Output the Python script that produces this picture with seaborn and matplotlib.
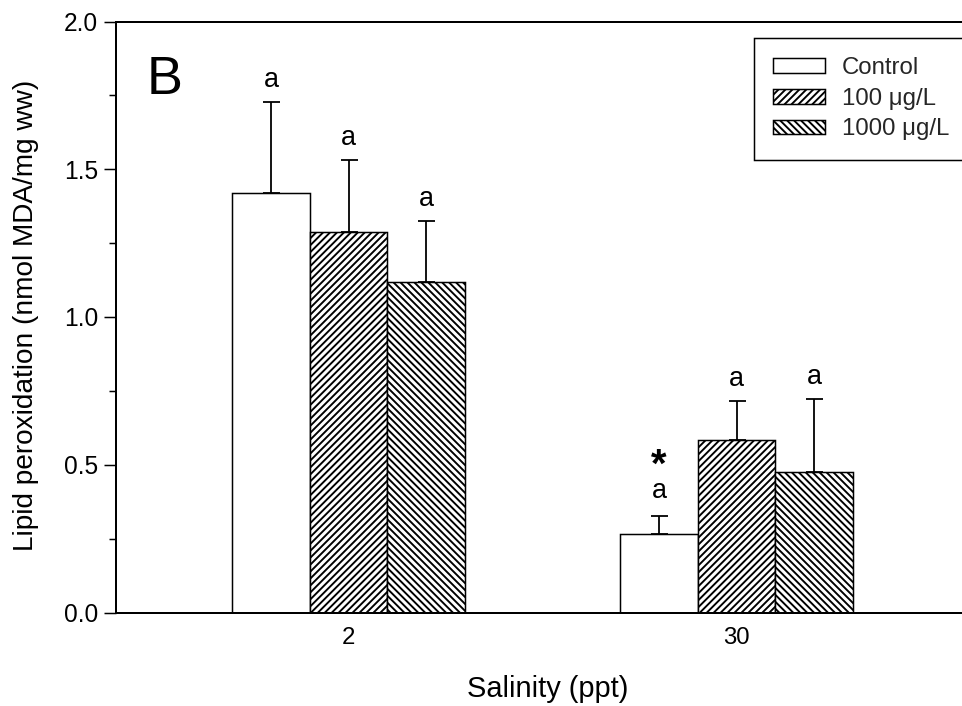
import numpy as np
import pandas as pd
import matplotlib
matplotlib.use("Agg")
import matplotlib.pyplot as plt
import seaborn as sns
from matplotlib.patches import Patch
from matplotlib.ticker import MultipleLocator, FormatStrFormatter

# ---------------- data ----------------
salinity = ["2", "30"]
treatments = ["Control", "100 μg/L", "1000 μg/L"]
control_mean = [1.420, 0.264]
control_err = [0.307, 0.062]
low_mean = [1.289, 0.584]
low_err = [0.241, 0.133]
high_mean = [1.118, 0.475]
high_err = [0.206, 0.248]
control_letters = ["a", "a"]
low_letters = ["a", "a"]
high_letters = ["a", "a"]
control_marks = ["", "*"]
low_marks = ["", ""]
high_marks = ["", ""]
y_ticks = [0.0, 0.5, 1.0, 1.5, 2.0]

# ---------------- style ----------------
DPI = 125
W, H = 962, 706
PX = 72.0 / DPI  # points per pixel

sns.set_theme(style="ticks")
plt.rcParams['font.family'] = ['Liberation Sans', 'DejaVu Sans']
plt.rcParams['hatch.linewidth'] = 1.1
plt.rcParams['hatch.color'] = 'black'

fig = plt.figure(figsize=(W / DPI, H / DPI), dpi=DPI)
ax = fig.add_axes([116 / W, 1 - 612.5 / H, (1010 - 116) / W, 591 / H])

means = [control_mean, low_mean, high_mean]
errs = [control_err, low_err, high_err]
letters = [control_letters, low_letters, high_letters]
marks = [control_marks, low_marks, high_marks]
hatches = ["", "//////", "\\" * 6]

df = pd.DataFrame({
    "Salinity": salinity * len(treatments),
    "Treatment": np.repeat(treatments, len(salinity)),
    "Value": np.concatenate(means),
})

sns.barplot(data=df, x="Salinity", y="Value", hue="Treatment",
            order=salinity, hue_order=treatments,
            palette=["white"] * 3, saturation=1, edgecolor="black",
            linewidth=1.5 * PX, width=0.6, errorbar=None, legend=False, ax=ax)

for cont, hatch, err, labs, mk in zip(ax.containers, hatches, errs, letters, marks):
    xs, tops = [], []
    for bar in cont:
        bar.set_hatch(hatch)
        bar.set_edgecolor("black")
        xs.append(bar.get_x() + bar.get_width() / 2)
        tops.append(bar.get_height())
    ax.errorbar(xs, tops, yerr=[np.zeros(len(err)), err], fmt="none",
                ecolor="black", elinewidth=1.8 * PX, capsize=8.5 * PX,
                capthick=1.8 * PX, zorder=3)
    for x, t, e, lab, m in zip(xs, tops, err, labs, mk):
        ax.annotate(lab, xy=(x, t + e), xytext=(0, (18 if m else 15) * PX),
                    textcoords="offset points",
                    ha="center", va="baseline", fontsize=27 * PX, color="black")
        if m:
            ax.annotate(m, xy=(x, t + e), xytext=(0, 39 * PX), textcoords="offset points",
                        ha="center", va="baseline", fontsize=40 * PX, fontweight="bold",
                        color="black")

ax.set_ylim(0, 2.0)
ax.set_xlim((116 - 348.5) / 388, (1010 - 348.5) / 388)
ax.set_yticks(y_ticks)
ax.yaxis.set_major_formatter(FormatStrFormatter("%.1f"))
ax.yaxis.set_minor_locator(MultipleLocator(0.25))
ax.tick_params(axis="y", which="major", direction="out", length=12 * PX, width=1.5 * PX,
               labelsize=24.5 * PX, pad=6 * PX, color="black", labelcolor="black")
ax.tick_params(axis="y", which="minor", direction="out", length=6.7 * PX, width=1.5 * PX,
               color="black")
ax.tick_params(axis="x", length=0, labelsize=24 * PX, pad=14 * PX, labelcolor="black")
ax.set_xlabel("")
ax.set_ylabel("")
for s in ax.spines.values():
    s.set_visible(True)
    s.set_color("black")
    s.set_linewidth(2 * PX)

fig.text(548 / W, 1 - 697 / H, "Salinity (ppt)", ha="center", va="baseline",
         fontsize=29 * PX, color="black")
fig.text(33.3 / W, 1 - 315 / H, "Lipid peroxidation (nmol MDA/mg ww)", rotation=90,
         rotation_mode="anchor", ha="center", va="baseline", fontsize=28 * PX, color="black")
fig.text(147 / W, 1 - 94 / H, "B", ha="left", va="baseline", fontsize=54 * PX, color="black")

handles = [Patch(facecolor="white", edgecolor="black", hatch=h, linewidth=1.5 * PX, label=t)
           for h, t in zip(hatches, treatments)]
leg = ax.legend(handles=handles, loc="upper left",
                bbox_to_anchor=(754 / W, 1 - 38 / H, 300 / W, 0), bbox_transform=fig.transFigure,
                mode="expand", borderaxespad=0, fontsize=24 * PX, handlelength=2.17,
                handleheight=0.58, handletextpad=0.7, borderpad=0.8, labelspacing=0.36,
                fancybox=False, framealpha=1, edgecolor="black")
leg.get_frame().set_linewidth(1.5 * PX)

fig.savefig("out.png", dpi=DPI)
